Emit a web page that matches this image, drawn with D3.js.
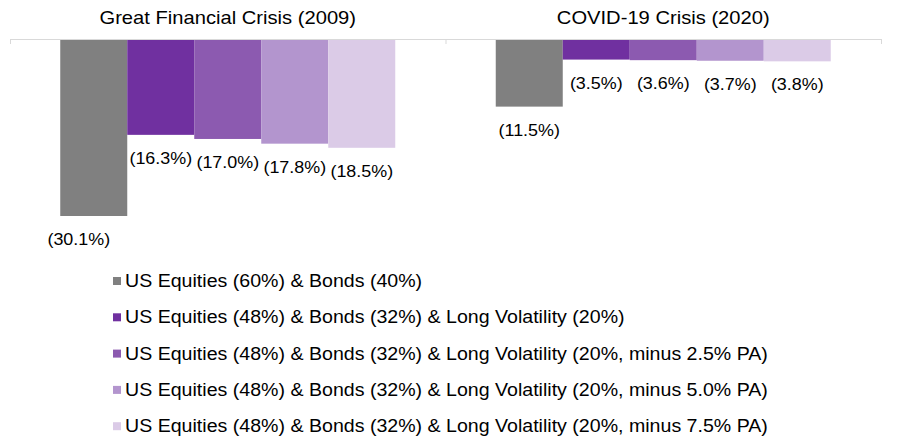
<!DOCTYPE html>
<html>
<head>
<meta charset="utf-8">
<script src="https://cdn.jsdelivr.net/npm/d3@7"></script>
<style>
  body { margin: 0; background: #fff; }
  svg { display: block; font-family: "Liberation Sans", Arial, sans-serif; }
</style>
</head>
<body>
<div id="chart"></div>
<script>
"use strict";
const crises = ["Great Financial Crisis (2009)", "COVID-19 Crisis (2020)"];
const portfolios = [
    "US Equities (60%) & Bonds (40%)",
    "US Equities (48%) & Bonds (32%) & Long Volatility (20%)",
    "US Equities (48%) & Bonds (32%) & Long Volatility (20%, minus 2.5% PA)",
    "US Equities (48%) & Bonds (32%) & Long Volatility (20%, minus 5.0% PA)",
    "US Equities (48%) & Bonds (32%) & Long Volatility (20%, minus 7.5% PA)"
];
const gfcValues = [-30.1, -16.3, -17.0, -17.8, -18.5];
const covidValues = [-11.5, -3.5, -3.6, -3.7, -3.8];
const colors = ["#808080", "#7030a0", "#8c5ab0", "#b395ce", "#dbcbe7"];

const width = 900, height = 440;
const panelLeft = 10, panelRight = 881;
const axisY = 39;
const stretch = 1.12; // text in the picture is a little wide

const svg = d3.select("#chart").append("svg")
    .attr("width", width)
    .attr("height", height)
    .attr("viewBox", [0, 0, width, height]);

const colorScale = d3.scaleOrdinal().domain(portfolios).range(colors);

// panels
const panel = d3.scaleBand()
    .domain(crises)
    .range([panelLeft, panelRight]);

const x = d3.scaleBand()
    .domain(portfolios)
    .range([0, panel.bandwidth()])
    .paddingOuter(0.75)
    .paddingInner(0);

const y = d3.scaleLinear()
    .domain([0, -30.1])
    .range([axisY, 216]);

const fmt = v => `(${Math.abs(v).toFixed(1)}%)`;

const series = [gfcValues, covidValues];

crises.forEach((c, ci) => {
    const g = svg.append("g")
        .attr("transform", `translate(${panel(c)},0)`);

    g.append("text")
        .attr("transform", `translate(${panel.bandwidth() / 2},24) scale(${stretch},1)`)
        .attr("text-anchor", "middle")
        .style("font-size", "18px")
        .style("fill", "#000")
        .text(c);

    const data = series[ci].map((v, i) => ({name: portfolios[i], value: v}));

    g.selectAll("rect")
        .data(data)
        .join("rect")
        .attr("x", d => x(d.name))
        .attr("y", y(0))
        .attr("width", x.bandwidth())
        .attr("height", d => y(d.value) - y(0))
        .attr("fill", d => colorScale(d.name));

    // the first GFC label sits a bit left of its bar in the original
    const shift = (i) => (ci === 0 && i === 0) ? -15 : 0;

    g.selectAll(".label")
        .data(data)
        .join("text")
        .attr("class", "label")
        .attr("transform", (d, i) => `translate(${x(d.name) + x.bandwidth() / 2 + shift(i)},${y(d.value) + 29}) scale(${stretch},1)`)
        .attr("text-anchor", "middle")
        .style("font-size", "16px")
        .style("fill", "#000")
        .text(d => fmt(d.value));
});

// zero axis with end ticks
const axis = svg.append("g").attr("stroke", "#d9d9d9").attr("stroke-width", 1);
axis.append("line")
    .attr("x1", panelLeft).attr("x2", panelRight)
    .attr("y1", axisY + 0.5).attr("y2", axisY + 0.5);
[panelLeft, panel(crises[1]), panelRight].forEach(px => {
    axis.append("line")
        .attr("x1", px + 0.5).attr("x2", px + 0.5)
        .attr("y1", axisY).attr("y2", axisY + 5);
});

// legend
const legend = svg.selectAll(".legend")
    .data(portfolios)
    .join("g")
    .attr("class", "legend")
    .attr("transform", (d, i) => `translate(113, ${281 + i * 36.3})`);

legend.append("rect")
    .attr("x", 0)
    .attr("y", -4)
    .attr("width", 8)
    .attr("height", 8)
    .attr("fill", colorScale);

legend.append("text")
    .attr("transform", `translate(12,0) scale(${stretch},1)`)
    .attr("dy", "0.35em")
    .style("font-size", "17.5px")
    .style("fill", "#000")
    .text(d => d);
</script>
</body>
</html>
